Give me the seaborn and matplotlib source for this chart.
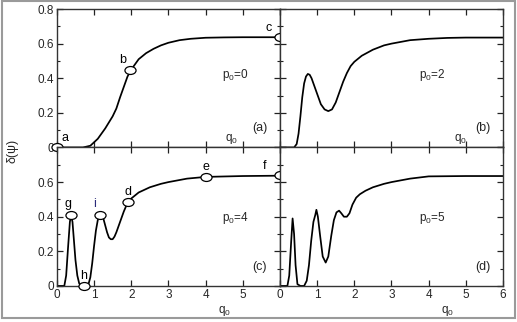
'''
plot.py - four panel chart of delta(psi) against q0 for several p0
'''

import numpy as np
import pandas as pd
import matplotlib
matplotlib.use("Agg")
import matplotlib.pyplot as plt
from matplotlib.path import Path
from matplotlib.patches import Rectangle
from matplotlib.ticker import MultipleLocator
import seaborn as sns

# DATA
q_a = [0, 0.5, 0.7, 0.9, 1.0, 1.1, 1.2, 1.3, 1.4, 1.5, 1.6, 1.7, 1.8, 1.9, 2.0,
       2.1, 2.2, 2.4, 2.6, 2.8, 3.0, 3.3, 3.6, 4.0, 4.5, 5.0, 6.0]
d_a = [0, 0, 0, 0.01, 0.03, 0.05, 0.08, 0.11, 0.145, 0.18, 0.225, 0.29, 0.35,
       0.41, 0.45, 0.48, 0.51, 0.545, 0.57, 0.59, 0.605, 0.62, 0.628, 0.634,
       0.636, 0.637, 0.637]

q_b = [0, 0.38, 0.45, 0.5, 0.55, 0.6, 0.65, 0.7, 0.75, 0.8, 0.85, 0.9, 1.0,
       1.1, 1.2, 1.3, 1.4, 1.5, 1.6, 1.7, 1.8, 1.9, 2.0, 2.2, 2.5, 2.8, 3.0,
       3.5, 4.0, 4.5, 5.0, 6.0]
d_b = [0, 0, 0.02, 0.08, 0.18, 0.29, 0.37, 0.41, 0.425, 0.42, 0.40, 0.37,
       0.31, 0.25, 0.22, 0.21, 0.22, 0.26, 0.32, 0.38, 0.43, 0.47, 0.495,
       0.53, 0.565, 0.59, 0.60, 0.62, 0.628, 0.633, 0.635, 0.635]

q_c = [0, 0.2, 0.25, 0.3, 0.35, 0.38, 0.42, 0.46, 0.5, 0.55, 0.6, 0.65, 0.75,
       0.85, 0.9, 0.95, 1.0, 1.05, 1.1, 1.15, 1.2, 1.25, 1.3, 1.35, 1.4, 1.45,
       1.5, 1.55, 1.6, 1.7, 1.8, 1.9, 2.0, 2.2, 2.5, 2.8, 3.0, 3.5, 4.0, 5.0,
       6.0]
d_c = [0, 0, 0.06, 0.22, 0.37, 0.41, 0.37, 0.26, 0.15, 0.06, 0.015, 0, 0,
       0.01, 0.05, 0.13, 0.23, 0.32, 0.38, 0.405, 0.41, 0.39, 0.35, 0.31,
       0.28, 0.27, 0.27, 0.285, 0.31, 0.37, 0.43, 0.48, 0.505, 0.54, 0.57,
       0.59, 0.60, 0.62, 0.63, 0.635, 0.637]

q_d = [0, 0.2, 0.25, 0.3, 0.34, 0.38, 0.42, 0.47, 0.55, 0.65, 0.72, 0.78,
       0.84, 0.9, 0.95, 0.98, 1.02, 1.08, 1.15, 1.23, 1.3, 1.38, 1.45, 1.52,
       1.59, 1.65, 1.72, 1.8, 1.87, 1.95, 2.05, 2.15, 2.3, 2.5, 2.8, 3.0, 3.5,
       4.0, 5.0, 6.0]
d_d = [0, 0, 0.06, 0.25, 0.39, 0.3, 0.12, 0.01, 0, 0, 0.03, 0.12, 0.26, 0.37,
       0.41, 0.44, 0.40, 0.29, 0.17, 0.135, 0.17, 0.29, 0.38, 0.425, 0.435,
       0.42, 0.40, 0.40, 0.42, 0.47, 0.51, 0.53, 0.55, 0.57, 0.59, 0.60, 0.62,
       0.633, 0.635, 0.635]

# marked points: label, q0, delta
pts_top_lbl = ["a", "b", "c"]
pts_top_q = [0, 1.96, 6.0]
pts_top_d = [0, 0.445, 0.64]
pts_bot_lbl = ["g", "h", "i", "d", "e", "f"]
pts_bot_q = [0.38, 0.73, 1.17, 1.9, 4.0, 6.0]
pts_bot_d = [0.41, 0, 0.41, 0.485, 0.63, 0.64]

p0_values = [0, 2, 4, 5]
panel_tags = ["(a)", "(b)", "(c)", "(d)"]

sns.set_style("ticks")
plt.rcParams['font.family'] = ['Liberation Sans', 'DejaVu Sans']
plt.rcParams['mathtext.default'] = 'regular'

fig = plt.figure(figsize=(5.17, 3.22), dpi=100)
gs = fig.add_gridspec(2, 2, left=0.110, right=0.973, bottom=0.112,
                      top=0.972, wspace=0, hspace=0)
axes = [fig.add_subplot(gs[0, 0]), fig.add_subplot(gs[0, 1]),
        fig.add_subplot(gs[1, 0]), fig.add_subplot(gs[1, 1])]

curves = [(q_a, d_a), (q_b, d_b), (q_c, d_c), (q_d, d_d)]

# wide ellipse marker
ell = Path.unit_circle().transformed(
    matplotlib.transforms.Affine2D().scale(1.4, 1.0))

for k, ax in enumerate(axes):
    df = pd.DataFrame({"q0": curves[k][0], "delta": curves[k][1]})
    sns.lineplot(data=df, x="q0", y="delta", ax=ax, sort=False,
                 color="black", linewidth=1.25)
    ax.set_xlim(0, 6)
    ax.set_ylim(0, 0.8)
    ax.set_xlabel("")
    ax.set_ylabel("")
    ax.xaxis.set_major_locator(MultipleLocator(1))
    ax.yaxis.set_major_locator(MultipleLocator(0.2))
    ax.yaxis.set_minor_locator(MultipleLocator(0.1))
    ax.tick_params(which="both", direction="in", top=True, right=True,
                   labelsize=8.5, color="#222222", pad=2)
    ax.tick_params(which="major", length=4, width=0.9)
    ax.tick_params(which="minor", length=2.5, width=0.8)
    for s in ax.spines.values():
        s.set_linewidth(1.0)
        s.set_color("#333333")
    ax.text(4.8 if k % 2 == 0 else 4.1, 0.42 if k < 2 else 0.39,
            "p$_0$=%d" % p0_values[k], fontsize=8.5, ha="center", va="center")
    ax.text(5.45, 0.11, panel_tags[k], fontsize=9, ha="center", va="center")

# tick labels: only on outer sides
for ax in axes[:2]:
    ax.tick_params(labelbottom=False)
    ax.text(4.7 if ax is axes[0] else 4.85, 0.05, "q$_0$", fontsize=8.5,
            ha="center", va="center")
for ax in (axes[1], axes[3]):
    ax.tick_params(labelleft=False)
axes[0].set_yticks([0, 0.2, 0.4, 0.6, 0.8], ["0", "0.2", "0.4", "0.6", "0.8"])
axes[2].set_yticks([0, 0.2, 0.4, 0.6, 0.8], ["0", "0.2", "0.4", "0.6", ""])
axes[2].set_xticks(range(7), ["0", "1", "2", "3", "4", "5", ""])
axes[3].set_xticks(range(7), [str(i) for i in range(7)])
for ax in (axes[2], axes[3]):
    ax.text(0.75, -0.18, "q$_0$", transform=ax.transAxes, fontsize=8.5,
            ha="center", va="center")

fig.text(0.025, 0.53, "δ(ψ)", rotation=90, fontsize=9,
         ha="center", va="center")

# open circle markers with letters
offs = {"a": (8, 9), "b": (-7, 10), "c": (-11, 9), "g": (-3, 11),
        "h": (0, 10), "i": (-6, 11), "d": (0, 10), "e": (0, 10), "f": (-15, 9)}
for ax, lbls, qs, ds in ((axes[0], pts_top_lbl, pts_top_q, pts_top_d),
                         (axes[2], pts_bot_lbl, pts_bot_q, pts_bot_d)):
    ax.plot(qs, ds, linestyle="none", marker=ell, markersize=8,
            markerfacecolor="white", markeredgecolor="black",
            markeredgewidth=0.9, clip_on=False, zorder=5)
    for lb, q, d in zip(lbls, qs, ds):
        ax.annotate(lb, (q, d), xytext=offs[lb], textcoords="offset pixels",
                    fontsize=9, ha="center", va="center",
                    color="#2b2b7a" if lb == "i" else "black",
                    annotation_clip=False)

# grey frame around the whole picture
fig.patches.append(Rectangle((0.004, 0.012), 0.992, 0.985,
                             transform=fig.transFigure, fill=False,
                             edgecolor="#9a9a9a", linewidth=1.5))

fig.savefig("out.png", dpi=100)
